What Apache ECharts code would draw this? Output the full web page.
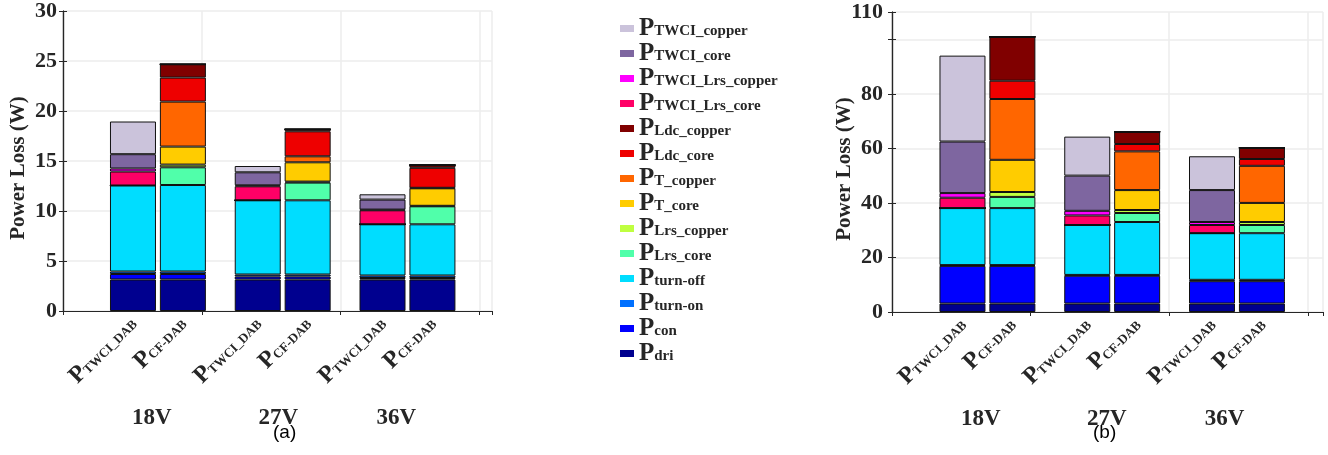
<!DOCTYPE html>
<html>
<head>
<meta charset="utf-8">
<script src="https://cdn.jsdelivr.net/npm/echarts@6.0.0/dist/echarts.min.js"></script>
<style>
html,body{margin:0;padding:0;background:#fff;}
#main{width:1328px;height:455px;}
</style>
</head>
<body>
<div id="main"></div>
<script>
// ---- categories / labels ----
var barLabels = ['TWCI_DAB', 'CF-DAB', 'TWCI_DAB', 'CF-DAB', 'TWCI_DAB', 'CF-DAB'];
var groupLabels = ['18V', '27V', '36V'];
var yTicksA = [0, 5, 10, 15, 20, 25, 30];
var yTicksB = [0, 20, 40, 60, 80, 110];

// layout helpers (slot index of each bar on a 13-slot category axis; group label positions on frame axis)
var barSlot = [0, 2, 5, 7, 10, 12];
var nSlots = 13;
var groupPos = [0.64, 1.55, 2.40];

// stacking order bottom -> top
var seriesNames = ['dri', 'con', 'turn-on', 'turn-off', 'Lrs_core', 'Lrs_copper', 'T_core', 'T_copper',
  'Ldc_core', 'Ldc_copper', 'TWCI_Lrs_core', 'TWCI_Lrs_copper', 'TWCI_core', 'TWCI_copper'];
var seriesColors = ['#00008F', '#0000FF', '#0070FF', '#00DDFF', '#50FFAA', '#BFFF40', '#FFCC00', '#FF6600',
  '#EE0000', '#800000', '#FF0066', '#FF00FF', '#7E66A0', '#CBC3DB'];

// ---- chart (a) values, W: [18V TWCI, 18V CF, 27V TWCI, 27V CF, 36V TWCI, 36V CF] ----
var a_dri            = [3.15, 3.15, 3.15, 3.15, 3.15, 3.15];
var a_con            = [0.55, 0.55, 0.3, 0.3, 0.15, 0.15];
var a_turnOn         = [0.25, 0.25, 0.2, 0.2, 0.25, 0.25];
var a_turnOff        = [8.6, 8.65, 7.42, 7.42, 5.12, 5.12];
var a_LrsCore        = [0, 1.77, 0, 1.77, 0, 1.8];
var a_LrsCopper      = [0, 0.27, 0, 0.1, 0, 0.05];
var a_TCore          = [0, 1.8, 0, 1.93, 0, 1.75];
var a_TCopper        = [0, 4.5, 0, 0.6, 0, 0.05];
var a_LdcCore        = [0, 2.4, 0, 2.5, 0, 2.0];
var a_LdcCopper      = [0, 1.33, 0, 0.2, 0, 0.27];
var a_TWCILrsCore    = [1.4, 0, 1.4, 0, 1.4, 0];
var a_TWCILrsCopper  = [0.3, 0, 0.1, 0, 0.07, 0];
var a_TWCICore       = [1.43, 0, 1.3, 0, 1.0, 0];
var a_TWCICopper     = [3.27, 0, 0.63, 0, 0.53, 0];

// ---- chart (b) values, W ----
var b_dri            = [3.1, 3.1, 3.1, 3.1, 3.1, 3.1];
var b_con            = [13.8, 13.8, 10.2, 10.2, 8.2, 8.2];
var b_turnOn         = [0.3, 0.3, 0.3, 0.3, 0.5, 0.5];
var b_turnOff        = [20.9, 20.9, 18.3, 19.4, 17.1, 17.1];
var b_LrsCore        = [0, 4.1, 0, 3.3, 0, 3.0];
var b_LrsCopper      = [0, 1.8, 0, 1.1, 0, 1.1];
var b_TCore          = [0, 11.8, 0, 7.3, 0, 7.0];
var b_TCopper        = [0, 22.3, 0, 14.2, 0, 13.6];
var b_LdcCore        = [0, 6.7, 0, 2.7, 0, 2.5];
var b_LdcCopper      = [0, 16.1, 0, 4.5, 0, 4.1];
var b_TWCILrsCore    = [3.8, 0, 3.5, 0, 3.0, 0];
var b_TWCILrsCopper  = [1.7, 0, 1.7, 0, 1.1, 0];
var b_TWCICore       = [18.9, 0, 12.9, 0, 11.7, 0];
var b_TWCICopper     = [31.5, 0, 14.3, 0, 12.4, 0];

var dataA = [a_dri, a_con, a_turnOn, a_turnOff, a_LrsCore, a_LrsCopper, a_TCore, a_TCopper,
  a_LdcCore, a_LdcCopper, a_TWCILrsCore, a_TWCILrsCopper, a_TWCICore, a_TWCICopper];
var dataB = [b_dri, b_con, b_turnOn, b_turnOff, b_LrsCore, b_LrsCopper, b_TCore, b_TCopper,
  b_LdcCore, b_LdcCopper, b_TWCILrsCore, b_TWCILrsCopper, b_TWCICore, b_TWCICopper];

var SERIF = '"Liberation Serif", "Times New Roman", serif';
var AX = '#262626';

var slotCats = [];
for (var s = 0; s < nSlots; s++) slotCats.push('s' + s);

var richSub = {
  p: { fontFamily: SERIF, fontWeight: 'bold', fontSize: 25, color: AX, lineHeight: 20 },
  s: { fontFamily: SERIF, fontWeight: 'bold', fontSize: 15, color: AX, lineHeight: 6, verticalAlign: 'bottom' }
};
var richAx = {
  p: { fontFamily: SERIF, fontWeight: 'bold', fontSize: 24, color: AX, lineHeight: 20 },
  s: { fontFamily: SERIF, fontWeight: 'bold', fontSize: 13, color: AX, lineHeight: 6, verticalAlign: 'bottom' }
};

// frame axes (grid lines, box, group labels)
function mkFrameX(gridIndex, max) {
  return [
    { type: 'value', gridIndex: gridIndex, min: 0, max: max, interval: 1, position: 'bottom',
      axisLine: { show: true, onZero: false, lineStyle: { color: AX, width: 1.2 } },
      axisTick: { show: false },
      splitLine: { show: true, lineStyle: { color: '#ececec', width: 1.5 } },
      axisLabel: { show: false } },
    { type: 'value', gridIndex: gridIndex, min: 0, max: max, position: 'bottom', offset: 96,
      axisLine: { show: false }, axisTick: { show: false }, splitLine: { show: false },
      axisLabel: { customValues: groupPos, margin: 0, fontFamily: SERIF, fontWeight: 'bold', fontSize: 23, color: AX,
        formatter: function (v) { var i = groupPos.indexOf(v); return i < 0 ? '' : groupLabels[i]; } } },
    { type: 'value', gridIndex: gridIndex, min: 0, max: max, interval: 1, position: 'top',
      axisLine: { show: true, lineStyle: { color: AX, width: 1.2 } },
      axisTick: { show: true, inside: true, length: 4, lineStyle: { color: AX } },
      splitLine: { show: false }, axisLabel: { show: false } }
  ];
}
function mkFrameY(gridIndex, max, interval, ticks, margin, nameGap) {
  return [
    { type: 'value', gridIndex: gridIndex, min: 0, max: max, interval: interval, position: 'left',
      name: 'Power Loss (W)', nameLocation: 'middle', nameGap: nameGap, nameMoveOverlap: false,
      nameTextStyle: { fontFamily: SERIF, fontWeight: 'bold', fontSize: 21, color: AX, padding: [0, 14, 0, 0] },
      axisLine: { show: true, lineStyle: { color: AX, width: 1.2 } },
      axisTick: { show: true, inside: true, length: 4, lineStyle: { color: AX } },
      splitLine: { show: true, lineStyle: { color: '#ececec', width: 1.5 } },
      axisLabel: { customValues: ticks, margin: margin, fontFamily: SERIF, fontWeight: 'bold', fontSize: 22, color: AX } },
    { type: 'value', gridIndex: gridIndex, min: 0, max: max, interval: interval, position: 'right',
      axisLine: { show: true, lineStyle: { color: AX, width: 1.2 } },
      axisTick: { show: true, inside: true, length: 4, lineStyle: { color: AX } },
      splitLine: { show: false }, axisLabel: { show: false } }
  ];
}
// bar axes (overlay grid with category slots)
function mkBarX(gridIndex) {
  return { type: 'category', gridIndex: gridIndex, data: slotCats, boundaryGap: true,
    axisLine: { show: false }, axisTick: { show: false }, splitLine: { show: false },
    axisLabel: { interval: 0, rotate: 45, margin: 9, rich: richAx,
      formatter: function (v, idx) { var i = barSlot.indexOf(idx); return i < 0 ? '' : '{p|P}{s|' + barLabels[i] + '}'; } } };
}
function mkBarY(gridIndex, max) {
  return { type: 'value', gridIndex: gridIndex, min: 0, max: max,
    axisLine: { show: false }, axisTick: { show: false }, splitLine: { show: false }, axisLabel: { show: false } };
}

var series = [];
function addSeries(data, xIdx, yIdx, stack) {
  for (var k = 0; k < seriesNames.length; k++) {
    var d = [];
    for (var s = 0; s < nSlots; s++) d.push('-');
    for (var i = 0; i < barSlot.length; i++) d[barSlot[i]] = data[k][i];
    series.push({
      type: 'bar', name: seriesNames[k], stack: stack, xAxisIndex: xIdx, yAxisIndex: yIdx,
      barWidth: 46, z: 3, clip: false,
      itemStyle: { color: seriesColors[k], borderColor: '#111', borderWidth: 1 },
      emphasis: { disabled: true },
      data: d
    });
  }
}

var xAxes = mkFrameX(0, 3.09).concat(mkFrameX(1, 3.11));  // 0..5
xAxes.push(mkBarX(2));  // 6
xAxes.push(mkBarX(3));  // 7
var yAxes = mkFrameY(0, 30, 5, yTicksA, 6, 34).concat(mkFrameY(1, 110, 20, yTicksB, 9, 37)); // 0..3
yAxes.push(mkBarY(2, 30));   // 4
yAxes.push(mkBarY(3, 110));  // 5

addSeries(dataA, 6, 4, 'a');
addSeries(dataB, 7, 5, 'b');

var chart = echarts.init(document.getElementById('main'), null, { renderer: 'canvas' });
chart.setOption({
  animation: false,
  backgroundColor: '#fff',
  grid: [
    { left: 63, top: 11, width: 429, height: 300 },
    { left: 892, top: 12, width: 431, height: 300 },
    { left: 120.5, top: 11, width: 324.4, height: 300 },
    { left: 950, top: 12, width: 324.4, height: 300 }
  ],
  xAxis: xAxes,
  yAxis: yAxes,
  legend: {
    orient: 'vertical', left: 615, top: 11, itemWidth: 14, itemHeight: 7, itemGap: 0,
    icon: 'rect', selectedMode: false,
    itemStyle: { borderWidth: 0 },
    data: seriesNames.slice().reverse(),
    formatter: function (n) { return '{p|P}{s|' + n + '}'; },
    textStyle: { rich: richSub }
  },
  graphic: [
    { type: 'text', left: 273, top: 423, style: { text: '(a)', fill: '#000', font: '19px "Liberation Sans", Arial, sans-serif' } },
    { type: 'text', left: 1093, top: 423, style: { text: '(b)', fill: '#000', font: '19px "Liberation Sans", Arial, sans-serif' } }
  ],
  series: series
});
</script>
</body>
</html>
